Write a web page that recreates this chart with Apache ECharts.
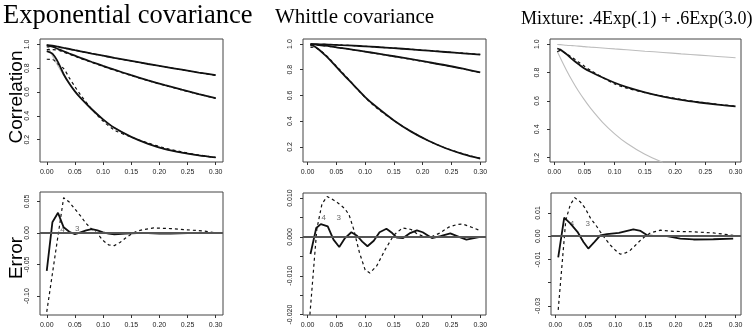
<!DOCTYPE html>
<html>
<head>
<meta charset="utf-8">
<script src="https://cdn.jsdelivr.net/npm/echarts@6/dist/echarts.min.js"></script>
<style>
html, body { margin: 0; padding: 0; background: #fff; }
#chart { width: 755px; height: 329px; }
</style>
</head>
<body>
<div id="chart"></div>
<script>
// distances (x) for the correlation panels
const distExp = [0, .01, .02, .03, .04, .05, .06, .08, .10, .12, .15, .18, .21, .24, .27, .30];
const distB = [.005, .01, .02, .03, .04, .05, .06, .08, .10, .12, .15, .18, .21, .24, .27, .30];

// exponential covariance, three ranges
const expUpperSolid = [.994, .990, .980, .970, .961, .951, .942, .923, .905, .887, .861, .835, .811, .787, .763, .741];
const expUpperDashed = [.978, .981, .977, .969, .960, .950, .941, .922, .904, .886, .860, .834, .810, .786, .762, .739];
const expMidSolid = [.992, .980, .961, .942, .923, .905, .887, .852, .819, .787, .741, .698, .657, .619, .583, .549];
const expMidDashed = [.955, .955, .950, .935, .918, .900, .882, .848, .815, .783, .738, .695, .655, .617, .581, .547];
const expLowTrue = [1.0, .905, .819, .741, .670, .607, .549, .449, .368, .301, .223, .165, .122, .091, .067, .050];
const expLowSolid = [.944, .922, .851, .749, .671, .605, .550, .455, .370, .299, .223, .165, .121, .091, .067, .050];
const expLowDashed = [.875, .873, .835, .797, .719, .645, .576, .455, .356, .281, .221, .171, .129, .097, .071, .050];

// whittle covariance
const whUpperSolid = [1.0, .999, .998, .997, .995, .993, .991, .987, .982, .977, .968, .958, .948, .938, .928, .917];
const whUpperDashed = [.996, .998, .998, .997, .995, .993, .991, .987, .982, .977, .968, .959, .949, .939, .929, .919];
const whMidSolid = [.999, .997, .992, .987, .981, .974, .968, .955, .941, .927, .905, .882, .859, .835, .808, .779];
const whMidDashed = [.990, .994, .991, .986, .980, .974, .968, .955, .941, .926, .904, .881, .858, .834, .807, .778];
const whLowSolid = [.989, .986, .955, .915, .871, .822, .773, .681, .588, .510, .406, .319, .248, .190, .145, .110];
const whLowDashed = [.974, .975, .956, .921, .877, .828, .780, .682, .583, .503, .405, .320, .248, .191, .147, .112];

// mixture
const mixLongGray = [.998, .997, .993, .990, .987, .983, .980, .974, .967, .961, .951, .942, .932, .923, .914, .905];
const mixShortGray = [.951, .905, .819, .741, .670, .607, .549, .449, .368, .301, .223, .165];
const mixSolid = [.970, .962, .931, .893, .860, .829, .806, .765, .728, .697, .661, .631, .607, .589, .574, .562];
const mixDashed = [.947, .955, .932, .906, .875, .845, .816, .766, .720, .690, .659, .633, .610, .592, .576, .563];

// error panels
const err1SolidX = [0, .01, .02, .03, .04, .05, .06, .07, .08, .09, .10, .11, .12, .14, .16, .18, .20, .22, .25, .30];
const err1SolidY = [-.060, .017, .032, .009, .002, -.002, .001, .004, .006, .004, .001, -.001, -.002, -.001, .000, .000, -.001, -.001, .000, .000];
const err1DashedX = [0, .03, .04, .05, .06, .07, .08, .09, .10, .11, .12, .13, .14, .15, .16, .17, .19, .22, .25, .28, .30];
const err1DashedY = [-.125, .056, .049, .038, .027, .015, .006, -.001, -.012, -.019, -.020, -.015, -.008, -.002, .003, .005, .008, .007, .005, .003, .000];

const err2SolidX = [.005, .015, .023, .035, .045, .055, .065, .076, .086, .095, .104, .115, .125, .137, .147, .155, .166, .177, .19, .20, .216, .231, .248, .263, .276, .30];
const err2SolidY = [-.0044, .0023, .0033, .0027, -.0007, -.0026, -.0003, .0012, .0003, -.0012, -.0024, -.0010, .0012, .0021, .0010, -.0002, -.0003, .0009, .0017, .0012, -.0003, .0002, .0009, .0000, -.0007, .0000];
const err2DashedX = [.004, .016, .025, .034, .045, .055, .065, .072, .08, .09, .10, .108, .12, .135, .15, .165, .18, .19, .20, .215, .23, .245, .26, .27, .285, .30];
const err2DashedY = [-.020, .002, .0085, .0104, .0095, .0085, .0072, .0057, .002, -.004, -.0085, -.0093, -.0075, -.0032, .0005, .0023, .0019, .0008, .0002, .0000, .0010, .0025, .0032, .0033, .0025, .0016];

const err3SolidX = [.005, .015, .025, .037, .047, .055, .065, .075, .086, .106, .13, .142, .153, .169, .186, .208, .23, .263, .296];
const err3SolidY = [-.0091, .0080, .0055, .0019, -.0025, -.0053, -.0025, .0004, .0009, .0014, .0029, .0023, .0004, .0000, .0000, -.0010, -.0014, -.0013, -.0010];
const err3DashedX = [.005, .0176, .025, .0325, .042, .05, .059, .067, .075, .083, .092, .1, .108, .117, .125, .133, .142, .15, .158, .175, .197, .23, .263, .296];
const err3DashedY = [-.0317, .0069, .0135, .0166, .0147, .012, .0076, .005, .0019, -.001, -.0039, -.006, -.0077, -.0072, -.006, -.004, -.0017, .0000, .0014, .0026, .0021, .0019, .0014, .0004];

// little "4" / "3" annotations in the error panels
const noteText = ['4', '3'];
const noteX = [.028, .054];
const noteY1 = [.005, .007];
const noteY2 = [.005, .005];
const noteY3 = [.0052, .0055];

// axis ticks
const xTicks = [0, .05, .10, .15, .20, .25, .30];
const corTicks = [.2, .4, .6, .8, 1.0];
const err1Ticks = [-.10, -.05, 0, .05];
const err2Ticks = [-.020, -.015, -.010, -.005, 0, .005, .010];
const err2Labels = [-.020, -.010, 0, .010];
const err3Ticks = [-.03, -.02, -.01, 0, .01];
const err3Labels = [-.03, -.01, 0, .01];

const zip = (xs, ys) => xs.map((x, i) => [x, ys[i]]);

const grids = [
  { left: 40, top: 39, width: 183, height: 123 },
  { left: 40, top: 192, width: 183, height: 123 },
  { left: 303, top: 39, width: 183, height: 123 },
  { left: 303, top: 193, width: 183, height: 122 },
  { left: 550, top: 39, width: 191, height: 123 },
  { left: 551, top: 193, width: 190, height: 122 }
].map(g => Object.assign({ show: true, borderColor: '#444', borderWidth: 1 }, g));

const xRanges = [[-.012, .313], [-.012, .313], [-.008, .310], [-.008, .310], [-.007, .309], [-.007, .309]];
const yRanges = [[.012, 1.045], [-.130, .065], [.083, 1.039], [-.0201, .0113], [.169, 1.037], [-.0339, .0186]];
const yTickSets = [corTicks, err1Ticks, corTicks, err2Ticks, corTicks, err3Ticks];
const yLabelSets = [corTicks, err1Ticks, corTicks, err2Labels, corTicks, err3Labels];
const yDigits = [1, 2, 1, 3, 1, 2];

const tickFont = { fontSize: 7, color: '#222', fontFamily: 'Liberation Sans' };

const xAxes = xRanges.map((r, i) => ({
  type: 'value', gridIndex: i, min: r[0], max: r[1],
  axisLine: { show: false, onZero: false },
  splitLine: { show: false },
  axisTick: { show: true, length: 3, customValues: xTicks, lineStyle: { color: '#333' } },
  axisLabel: Object.assign({ customValues: xTicks, margin: 7, formatter: v => v.toFixed(2) }, tickFont)
}));

const yAxes = yRanges.map((r, i) => ({
  type: 'value', gridIndex: i, min: r[0], max: r[1],
  axisLine: { show: false, onZero: false },
  splitLine: { show: false },
  axisTick: { show: true, length: 3, customValues: yTickSets[i], lineStyle: { color: '#333' } },
  axisLabel: Object.assign({ customValues: yLabelSets[i], rotate: 90, margin: 9,
    formatter: v => v.toFixed(yDigits[i]) }, tickFont)
}));

const solid = { color: '#111', width: 1.8, type: 'solid' };
const dashed = { color: '#111', width: 1.2, type: [3, 3] };
const gray = { color: '#bdbdbd', width: 1.1, type: 'solid' };

function line(gi, data, style, smooth, z) {
  return {
    type: 'line', xAxisIndex: gi, yAxisIndex: gi, data: data,
    symbol: 'none', smooth: smooth, lineStyle: style, silent: true, z: z
  };
}

function zeroLine(gi) {
  return {
    type: 'line', xAxisIndex: gi, yAxisIndex: gi, data: [], symbol: 'none', silent: true,
    markLine: {
      silent: true, symbol: 'none', label: { show: false },
      lineStyle: { color: '#555', width: 1.8, type: 'solid' },
      data: [{ yAxis: 0 }]
    }
  };
}

function notes(gi, ys) {
  return {
    type: 'scatter', xAxisIndex: gi, yAxisIndex: gi, symbolSize: 0, silent: true,
    data: noteX.map((x, i) => [x, ys[i], noteText[i]]),
    label: { show: true, position: 'inside', formatter: p => p.value[2],
      fontSize: 8, color: '#444', fontFamily: 'Liberation Sans' }
  };
}

const sm = 0.3;
const series = [
  // exponential
  line(0, zip(distExp, expLowTrue), gray, sm, 1),
  line(0, zip(distExp, expUpperDashed), dashed, sm, 2),
  line(0, zip(distExp, expMidDashed), dashed, sm, 2),
  line(0, zip(distExp, expLowDashed), dashed, sm, 2),
  line(0, zip(distExp, expUpperSolid), solid, sm, 3),
  line(0, zip(distExp, expMidSolid), solid, sm, 3),
  line(0, zip(distExp, expLowSolid), solid, sm, 3),
  zeroLine(1),
  line(1, zip(err1DashedX, err1DashedY), dashed, false, 2),
  line(1, zip(err1SolidX, err1SolidY), solid, false, 3),
  notes(1, noteY1),
  // whittle
  line(2, zip(distB, whUpperDashed), dashed, sm, 2),
  line(2, zip(distB, whMidDashed), dashed, sm, 2),
  line(2, zip(distB, whLowDashed), dashed, sm, 2),
  line(2, zip(distB, whUpperSolid), solid, sm, 3),
  line(2, zip(distB, whMidSolid), solid, sm, 3),
  line(2, zip(distB, whLowSolid), solid, sm, 3),
  zeroLine(3),
  line(3, zip(err2DashedX, err2DashedY), dashed, false, 2),
  line(3, zip(err2SolidX, err2SolidY), solid, false, 3),
  notes(3, noteY2),
  // mixture
  line(4, zip(distB, mixLongGray), gray, sm, 1),
  line(4, zip(distB.slice(0, mixShortGray.length), mixShortGray), gray, sm, 1),
  line(4, zip(distB, mixDashed), dashed, sm, 2),
  line(4, zip(distB, mixSolid), solid, sm, 3),
  zeroLine(5),
  line(5, zip(err3DashedX, err3DashedY), dashed, false, 2),
  line(5, zip(err3SolidX, err3SolidY), solid, false, 3),
  notes(5, noteY3)
];

const serif = '"Liberation Serif", "DejaVu Serif", serif';
const sans = '"Liberation Sans", Arial, sans-serif';

const chart = echarts.init(document.getElementById('chart'), null, { renderer: 'canvas' });
chart.setOption({
  animation: false,
  backgroundColor: '#fff',
  grid: grids,
  xAxis: xAxes,
  yAxis: yAxes,
  series: series,
  graphic: [
    { type: 'text', x: 3, y: 16, style: { text: 'Exponential covariance', fontSize: 26.5, fontFamily: serif, fill: '#000', verticalAlign: 'middle' } },
    { type: 'text', x: 275, y: 17, style: { text: 'Whittle covariance', fontSize: 21, fontFamily: serif, fill: '#000', verticalAlign: 'middle' } },
    { type: 'text', x: 521, y: 19, style: { text: 'Mixture: .4Exp(.1) + .6Exp(3.0)', fontSize: 18, fontFamily: serif, fill: '#000', verticalAlign: 'middle' } },
    { type: 'text', x: 17, y: 97, rotation: Math.PI / 2, style: { text: 'Correlation', fontSize: 19, fontFamily: sans, fill: '#000', align: 'center', verticalAlign: 'middle' } },
    { type: 'text', x: 17, y: 258, rotation: Math.PI / 2, style: { text: 'Error', fontSize: 19, fontFamily: sans, fill: '#000', align: 'center', verticalAlign: 'middle' } }
  ]
});
</script>
</body>
</html>
